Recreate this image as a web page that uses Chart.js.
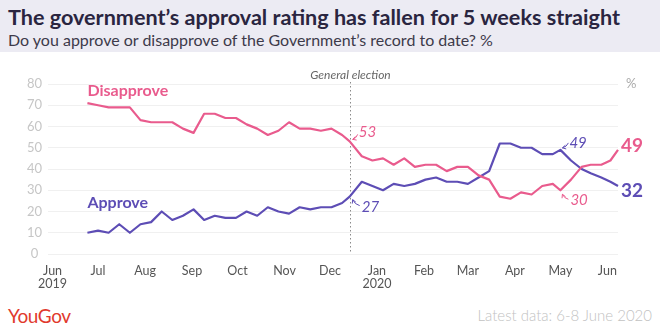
<!DOCTYPE html>
<html>
<head>
<meta charset="utf-8">
<script src="https://cdn.jsdelivr.net/npm/chart.js@4.4.0/dist/chart.umd.min.js"></script>
<style>
  html, body { margin: 0; padding: 0; background: #fff; }
  #page { position: relative; width: 660px; height: 330px; overflow: hidden; font-family: Lato, "Open Sans", sans-serif; }
  #head { position: absolute; left: 0; top: 0; width: 660px; height: 52px; background: #ecebf3; }
  #title { position: absolute; left: 8px; top: 4px; font-size: 21.6px; font-weight: 700; color: #2a2540; white-space: nowrap; }
  #sub { position: absolute; left: 8px; top: 30px; font-size: 16px; color: #3d3a4a; white-space: nowrap; }
  #wrap { position: absolute; left: 0; top: 56px; width: 660px; height: 240px; }
  #logo { position: absolute; left: 8px; top: 304px; font-size: 19px; color: #e1392d; letter-spacing: -0.4px; }
  #latest { position: absolute; right: 8px; top: 306px; font-size: 15px; font-weight: 300; color: #c2c2c2; white-space: nowrap; }
</style>
</head>
<body>
<div id="page">
  <div id="head">
    <div id="title">The government’s approval rating has fallen for 5 weeks straight</div>
    <div id="sub">Do you approve or disapprove of the Government’s record to date? %</div>
  </div>
  <div id="wrap"><canvas id="chart" width="660" height="240"></canvas></div>
  <div id="logo">YouGov</div>
  <div id="latest">Latest data: 6-8 June 2020</div>
</div>
<script>
// Fieldwork dates of each tracker poll
const dates = [
  "2019-06-24","2019-07-01","2019-07-08","2019-07-15","2019-07-22","2019-07-29",
  "2019-08-05","2019-08-12","2019-08-19","2019-08-26","2019-09-02","2019-09-09",
  "2019-09-16","2019-09-23","2019-09-30","2019-10-07","2019-10-14","2019-10-21",
  "2019-10-28","2019-11-04","2019-11-11","2019-11-18","2019-11-25","2019-12-02",
  "2019-12-09","2019-12-14","2019-12-22","2019-12-29","2020-01-05","2020-01-12",
  "2020-01-19","2020-01-26","2020-02-02","2020-02-09","2020-02-16","2020-02-23",
  "2020-03-01","2020-03-08","2020-03-15","2020-03-22","2020-03-29","2020-04-05",
  "2020-04-12","2020-04-19","2020-04-26","2020-05-01","2020-05-08","2020-05-15",
  "2020-05-21","2020-05-28","2020-06-03","2020-06-08"
];
const approve = [
  10, 11, 10, 14, 10, 14, 15, 20, 16, 18, 21, 16, 18, 17, 17, 20, 18, 22,
  20, 19, 22, 21, 22, 22, 24, 27, 34, 32, 30, 33, 32, 33, 35, 36, 34, 34,
  33, 36, 39, 52, 52, 50, 50, 47, 47, 49, 44, 40, 38, 36, 34, 32
];
const disapprove = [
  71, 70, 69, 69, 69, 63, 62, 62, 62, 59, 57, 66, 66, 64, 64, 61, 59, 56,
  58, 62, 59, 59, 58, 59, 56, 53, 46, 44, 45, 42, 45, 41, 42, 42, 39, 41,
  41, 37, 35, 27, 26, 29, 28, 32, 33, 30, 35, 41, 42, 42, 44, 49
];
const monthTicks = [
  "2019-06-01","2019-07-01","2019-08-01","2019-09-01","2019-10-01","2019-11-01",
  "2019-12-01","2020-01-01","2020-02-01","2020-03-01","2020-04-01","2020-05-01","2020-06-01"
];
const monthNames = ["Jun","Jul","Aug","Sep","Oct","Nov","Dec","Jan","Feb","Mar","Apr","May","Jun"];
const yearNames  = ["2019","","","","","","","2020","","","","",""];
const yTicks = [0, 10, 20, 30, 40, 50, 60, 70, 80];
const electionDate = "2019-12-14";
const xRange = ["2019-05-29", "2020-06-08"];

const PINK = "#e95b8d";
const PURPLE = "#5d4db5";
const FONT = "Lato, 'Open Sans', sans-serif";

// days since 1 June 2019
const ORIGIN = Date.UTC(2019, 5, 1);
function day(s) {
  const [y, m, d] = s.split("-").map(Number);
  return (Date.UTC(y, m - 1, d) - ORIGIN) / 86400000;
}
const approvePts = dates.map((d, i) => ({ x: day(d), y: approve[i] }));
const disapprovePts = dates.map((d, i) => ({ x: day(d), y: disapprove[i] }));
const last = dates.length - 1;
const iElection = dates.indexOf(electionDate);
const iApprovePeak = dates.indexOf("2020-05-01");
const iDisapproveLow = iApprovePeak;

function arrow(ctx, x1, y1, x2, y2, color) {
  ctx.save();
  ctx.strokeStyle = color; ctx.lineWidth = 1;
  ctx.beginPath();
  const mx = (x1 + x2) / 2 + (y2 - y1) * 0.25, my = (y1 + y2) / 2 - (x2 - x1) * 0.25;
  ctx.moveTo(x1, y1); ctx.quadraticCurveTo(mx, my, x2, y2);
  ctx.stroke();
  const a = Math.atan2(y2 - my, x2 - mx);
  ctx.beginPath();
  ctx.moveTo(x2 - 4 * Math.cos(a - 0.5), y2 - 4 * Math.sin(a - 0.5));
  ctx.lineTo(x2, y2);
  ctx.lineTo(x2 - 4 * Math.cos(a + 0.5), y2 - 4 * Math.sin(a + 0.5));
  ctx.stroke();
  ctx.restore();
}

const notes = {
  id: "notes",
  beforeDatasetsDraw(chart) {
    const { ctx, chartArea, scales: { x } } = chart;
    const ex = Math.round(x.getPixelForValue(day(electionDate))) + 0.5;
    ctx.save();
    ctx.strokeStyle = "#8a8a8a"; ctx.lineWidth = 1; ctx.setLineDash([1.5, 2.5]);
    ctx.beginPath(); ctx.moveTo(ex, chartArea.top - 2); ctx.lineTo(ex, chartArea.bottom); ctx.stroke();
    ctx.setLineDash([]);
    ctx.fillStyle = "#666"; ctx.font = "italic 12px " + FONT;
    ctx.textAlign = "center"; ctx.textBaseline = "middle";
    ctx.fillText("General election", ex, chartArea.top - 9);
    ctx.restore();
  },
  afterDatasetsDraw(chart) {
    const { ctx, chartArea, scales: { x, y } } = chart;
    const px = i => x.getPixelForValue(day(dates[i]));
    ctx.save();
    ctx.textBaseline = "middle"; ctx.textAlign = "left";

    // series names
    ctx.font = "bold 16px " + FONT;
    ctx.fillStyle = PINK;
    ctx.fillText("Disapprove", px(0), y.getPixelForValue(76.8));
    ctx.fillStyle = PURPLE;
    ctx.fillText("Approve", px(0), y.getPixelForValue(24));

    // callouts
    ctx.font = "italic 15px " + FONT;
    let X = px(iElection), Y = y.getPixelForValue(disapprove[iElection]);
    ctx.fillStyle = PINK; ctx.fillText(String(disapprove[iElection]), X + 9, Y - 9);
    arrow(ctx, X + 8, Y - 7, X + 3, Y - 2, PINK);
    Y = y.getPixelForValue(approve[iElection]);
    ctx.fillStyle = PURPLE; ctx.fillText(String(approve[iElection]), X + 12, Y + 11);
    arrow(ctx, X + 10, Y + 9, X + 3, Y + 3, PURPLE);

    X = px(iApprovePeak); Y = y.getPixelForValue(approve[iApprovePeak]);
    ctx.fillStyle = PURPLE; ctx.fillText(String(approve[iApprovePeak]), X + 9, Y - 7);
    arrow(ctx, X + 8, Y - 7, X + 2, Y - 2, PURPLE);
    X = px(iDisapproveLow); Y = y.getPixelForValue(disapprove[iDisapproveLow]);
    ctx.fillStyle = PINK; ctx.fillText(String(disapprove[iDisapproveLow]), X + 10, Y + 10);
    arrow(ctx, X + 8, Y + 9, X + 2, Y + 4, PINK);

    // latest values
    ctx.font = "bold 19px " + FONT;
    X = px(last);
    ctx.fillStyle = PINK; ctx.fillText(String(disapprove[last]), X + 3, y.getPixelForValue(disapprove[last]) - 4);
    ctx.fillStyle = PURPLE; ctx.fillText(String(approve[last]), X + 3, y.getPixelForValue(approve[last]) + 5);

    // unit
    ctx.font = "13px " + FONT; ctx.fillStyle = "#aaa";
    ctx.fillText("%", chartArea.right + 8, y.getPixelForValue(80));
    ctx.restore();
  }
};

new Chart(document.getElementById("chart"), {
  type: "line",
  data: {
    datasets: [
      { label: "Disapprove", data: disapprovePts, borderColor: PINK, borderWidth: 2.2, pointRadius: 0, tension: 0, borderJoinStyle: "round", clip: false },
      { label: "Approve", data: approvePts, borderColor: PURPLE, borderWidth: 2.2, pointRadius: 0, tension: 0, borderJoinStyle: "round", clip: false }
    ]
  },
  options: {
    responsive: false,
    animation: false,
    events: [],
    layout: { padding: { top: 28, right: 42, bottom: 0, left: 0 } },
    plugins: { legend: { display: false }, tooltip: { enabled: false } },
    scales: {
      x: {
        type: "linear",
        min: day(xRange[0]), max: day(xRange[1]),
        afterBuildTicks: s => { s.ticks = monthTicks.map(m => ({ value: day(m) })); },
        afterFit: s => { s.height = 42; },
        grid: { display: false },
        border: { display: false },
        ticks: {
          autoSkip: false, maxRotation: 0, padding: 2,
          color: "#555", font: { family: FONT, size: 12.5, lineHeight: 1.05 },
          callback: (v, i) => yearNames[i] ? [monthNames[i], yearNames[i]] : monthNames[i]
        }
      },
      y: {
        min: 0, max: 80,
        afterBuildTicks: s => { s.ticks = yTicks.map(v => ({ value: v })); },
        afterFit: s => { s.width = 48; },
        grid: { color: "#f0f0f0", drawTicks: false },
        border: { display: false },
        ticks: { color: "#c6c6c6", crossAlign: "center", padding: 6, font: { family: FONT, size: 13 } }
      }
    }
  },
  plugins: [notes]
});
</script>
</body>
</html>
